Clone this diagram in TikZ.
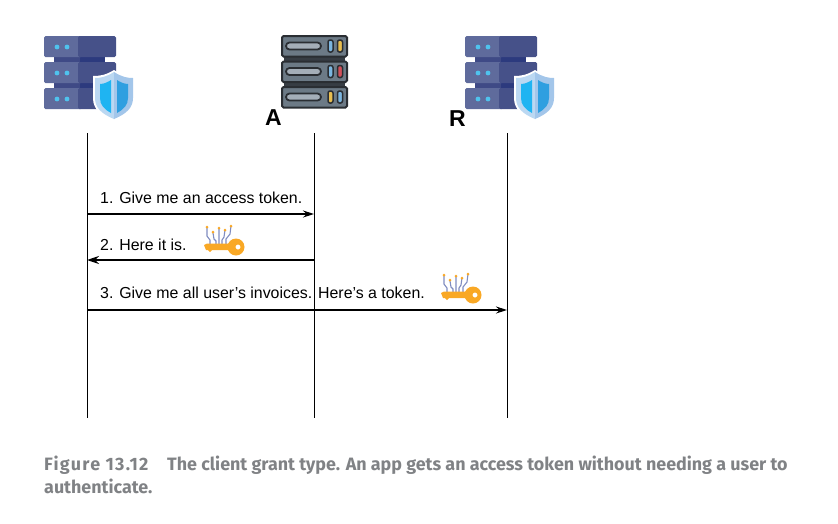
\documentclass[tikz,border=0pt]{standalone}
\usepackage{fontspec}
\setmainfont{Liberation Sans}
\newfontfamily\capfont{Fira Sans}
\newfontfamily\capwide[LetterSpace=7]{Fira Sans}
\usetikzlibrary{arrows.meta}
\definecolor{srvL}{HTML}{5F6B9C}
\definecolor{srvR}{HTML}{465189}
\definecolor{srvDL}{HTML}{3F4A86}
\definecolor{srvDR}{HTML}{2C3A7E}
\definecolor{dotc}{HTML}{4FC3EE}
\definecolor{shE}{HTML}{BBD8F2}
\definecolor{shE2}{HTML}{A3C6EA}
\definecolor{shL}{HTML}{1FB4F2}
\definecolor{shR}{HTML}{2F9FE0}
\definecolor{rackO}{HTML}{2A2E33}
\definecolor{rackF}{HTML}{6C7A86}
\definecolor{rackS}{HTML}{A4AEB8}
\definecolor{keyc}{HTML}{F9A825}
\definecolor{wire}{HTML}{7F8CC0}
\definecolor{capc}{HTML}{808285}
\tikzset{
  lifeline/.style={draw=black,line width=0.9pt},
  msg/.style={draw=black,line width=1.2pt,-{Stealth[length=11pt,width=7pt]}},
  msgb/.style={draw=black,line width=2.2pt,-{Stealth[length=12pt,width=8pt]}},
  msglabel/.style={anchor=base west,inner sep=0pt,font=\fontsize{15.9}{18}\selectfont},
  caplabel/.style={anchor=base west,inner sep=0pt,text=capc,font=\capfont\bfseries\fontsize{17.9}{20}\selectfont},
  capwidelabel/.style={anchor=base west,inner sep=0pt,text=capc,font=\capwide\bfseries\fontsize{17.9}{20}\selectfont},
  letter/.style={anchor=base west,inner sep=0pt,font=\bfseries\fontsize{23}{26}\selectfont},
  pics/shieldserver/.style={code={
    \fill[srvDL] (10,20) rectangle (36,55);
    \fill[srvDR] (36,20) rectangle (61,55);
    \foreach \y in {0,26,52}{
      \fill[srvL,rounded corners=1.5pt] (0,\y) rectangle (38,\y+21);
      \fill[srvR,rounded corners=1.5pt] (34,\y) rectangle (72,\y+21);
      \fill[srvR] (35,\y) rectangle (40,\y+21);
      \fill[dotc] (13,\y+11) circle (2.4) (23,\y+11) circle (2.4);
    }
    \fill[white] (70,34) .. controls (62,39) and (56,40) .. (49,40)
      -- (49,62) .. controls (49,74) and (58,80) .. (70,85)
      .. controls (82,80) and (91,74) .. (91,62) -- (91,40)
      .. controls (84,40) and (78,39) .. (70,34) -- cycle;
    \fill[shE] (70,36) .. controls (62,41) and (57,42) .. (51,42)
      -- (51,62) .. controls (51,72) and (58,78) .. (70,83) -- cycle;
    \fill[shE2] (70,36) .. controls (78,41) and (83,42) .. (89,42)
      -- (89,62) .. controls (89,72) and (82,78) .. (70,83) -- cycle;
    \fill[shL] (67,44) .. controls (64,46) and (60,48) .. (56,48)
      -- (56,62) .. controls (56,69) and (60,73) .. (67,77) -- cycle;
    \fill[shR] (73,44) .. controls (76,46) and (80,48) .. (84,48)
      -- (84,62) .. controls (84,69) and (80,73) .. (73,77) -- cycle;
  }},
  pics/rack/.style={code={
    \fill[rackO!80!rackF] (3,20) rectangle (64,55);
    \foreach \y/\ca/\cb/\sx in {0/7CB6E0/E8BE50/47,25.5/7CB6E0/D2505A/47,51/E8BE50/7CB6E0/47}{
      \draw[rackO,line width=2pt,fill=rackF,rounded corners=1.5pt] (1,\y+1) rectangle (66,\y+21.5);
      \draw[rackO,line width=1.8pt,fill=rackS,rounded corners=3.5pt] (5,\y+7.5) rectangle (40,\y+14.5);
      \definecolor{tmpa}{HTML}{\ca}\definecolor{tmpb}{HTML}{\cb}
      \draw[rackO,line width=1.5pt,fill=tmpa,rounded corners=2pt] (\sx,\y+5) rectangle (\sx+5,\y+17);
      \draw[rackO,line width=1.5pt,fill=tmpb,rounded corners=2pt] (\sx+9.5,\y+5) rectangle (\sx+14.5,\y+17);
    }
  }},
  pics/circuitkey/.style={code={
    \draw[wire,line width=1.1pt]
      (3,2) -- (3,11) -- (6,15) -- (6,20)
      (9,8) -- (10,14) -- (12,16) -- (12,20)
      (15,3) -- (15,19)
      (21,5) -- (20,12) -- (18,15) -- (18,20)
      (27,1) -- (26,9) -- (22,14) -- (22,20);
    \fill[keyc] (3,2) circle (1.5) (9,7) circle (1.5) (15,3) circle (1.5) (21,5) circle (1.5) (27,1) circle (1.5);
    \fill[keyc] (0,20) -- (3,18.5) -- (26,18.5) -- (26,25) -- (8,25) -- (6,27) -- (4,25) -- (2,25) -- cycle;
    \fill[keyc,even odd rule] (32,22) circle (8.5) (34,22) circle (2.6);
  }}
}
\begin{document}
\begin{tikzpicture}[x=1pt,y=-1pt]
\useasboundingbox (0,0) rectangle (838,523);
% icons
\pic at (44,36) {shieldserver};
\pic at (465,36) {shieldserver};
\pic at (281,35) {rack};
\pic at (204,225) {circuitkey};
\pic at (441,273) {circuitkey};
% letters
\node[letter] (la) at (265,125) {A};
\node[letter] (lr) at (449,126) {R};
% lifeline ends
\coordinate (c1t) at (87,133);
\coordinate (c1b) at (87,418);
\coordinate (a1t) at (314,133);
\coordinate (a1b) at (314,418);
\coordinate (r1t) at (507,133);
\coordinate (r1b) at (507,418);
\draw[lifeline] (c1t) -- (c1b);
\draw[lifeline] (a1t) -- (a1b);
\draw[lifeline] (r1t) -- (r1b);
% message ends
\coordinate (m1s) at (87,214);
\coordinate (m1e) at (314,214);
\coordinate (m2s) at (314,260);
\coordinate (m2e) at (87,260);
\coordinate (m3s) at (87,310);
\coordinate (m3e) at (507,310);
\draw[msg] (m1s) -- (m1e);
\draw[msgb] (m2s) -- (m2e);
\draw[msg] (m3s) -- (m3e);
% labels
\node[msglabel] (t1) at (100,203) {1. Give me an access token.};
\node[msglabel] (t2) at (100,250) {2. Here it is.};
\node[msglabel] (t3) at (100,298) {3. Give me all user’s invoices. Here’s a token.};
% caption
\node[capwidelabel] (cap1) at (44,470) {Figure 13.12};
\node[caplabel] (cap2) at (167,470) {The client grant type. An app gets an access token without needing a user to};
\node[caplabel] (cap3) at (44,493) {authenticate.};
\end{tikzpicture}
\end{document}
